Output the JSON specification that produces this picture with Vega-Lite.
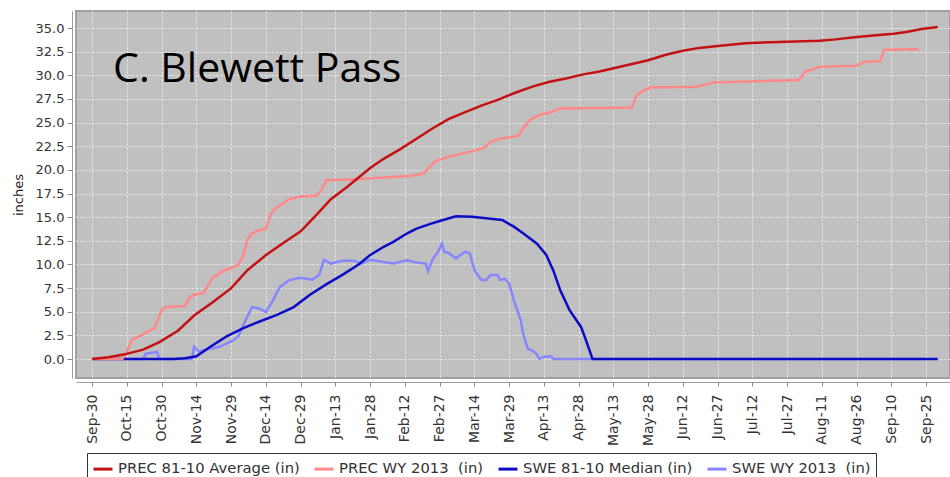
{
  "$schema": "https://vega.github.io/schema/vega-lite/v6.json",
  "width": 874,
  "height": 367,
  "autosize": {"type": "none"},
  "padding": {"left": 76, "top": 11, "right": 0, "bottom": 99},
  "background": "white",
  "config": {
    "view": {"fill": "#c0c0c0", "stroke": "#a0a0a0", "strokeWidth": 2},
    "font": "DejaVu Sans",
    "legend": {
      "orient": "none", "legendX": 11, "legendY": 442, "direction": "horizontal",
      "strokeColor": "#333", "fillColor": "white", "padding": 5,
      "symbolType": "stroke", "symbolSize": 361, "symbolStrokeWidth": 3,
      "labelFontSize": 14.8, "labelFont": "DejaVu Sans", "labelColor": "#333",
      "columnPadding": 8, "labelOffset": 4, "labelLimit": 0, "title": null
    }
  },
  "datasets": {
    "pa": [
      {"t":"2012-09-30","v":0},{"t":"2012-10-07","v":0.2},{"t":"2012-10-14","v":0.5},{"t":"2012-10-22","v":1.0},{"t":"2012-10-29","v":1.8},{"t":"2012-11-06","v":3.0},{"t":"2012-11-13","v":4.6},{"t":"2012-11-21","v":6.0},{"t":"2012-11-29","v":7.5},{"t":"2012-12-06","v":9.4},{"t":"2012-12-14","v":11.0},{"t":"2012-12-21","v":12.2},{"t":"2012-12-29","v":13.5},{"t":"2013-01-05","v":15.3},{"t":"2013-01-11","v":16.9},{"t":"2013-01-18","v":18.2},{"t":"2013-01-23","v":19.2},{"t":"2013-01-28","v":20.2},{"t":"2013-02-03","v":21.2},{"t":"2013-02-10","v":22.2},{"t":"2013-02-17","v":23.3},{"t":"2013-02-24","v":24.4},{"t":"2013-03-03","v":25.4},{"t":"2013-03-10","v":26.1},{"t":"2013-03-17","v":26.8},{"t":"2013-03-24","v":27.4},{"t":"2013-03-31","v":28.1},{"t":"2013-04-08","v":28.8},{"t":"2013-04-15","v":29.3},{"t":"2013-04-23","v":29.7},{"t":"2013-04-30","v":30.1},{"t":"2013-05-07","v":30.4},{"t":"2013-05-14","v":30.8},{"t":"2013-05-21","v":31.2},{"t":"2013-05-28","v":31.6},{"t":"2013-06-05","v":32.2},{"t":"2013-06-12","v":32.6},{"t":"2013-06-19","v":32.9},{"t":"2013-06-27","v":33.1},{"t":"2013-07-09","v":33.4},{"t":"2013-07-27","v":33.55},{"t":"2013-08-10","v":33.65},{"t":"2013-08-17","v":33.8},{"t":"2013-08-24","v":34.0},{"t":"2013-09-02","v":34.2},{"t":"2013-09-11","v":34.4},{"t":"2013-09-17","v":34.6},{"t":"2013-09-23","v":34.9},{"t":"2013-09-30","v":35.1}
    ],
    "pw": [
      {"t":"2012-09-30","v":0},{"t":"2012-10-13","v":0},{"t":"2012-10-15","v":0.8},{"t":"2012-10-17","v":2.0},{"t":"2012-10-21","v":2.5},{"t":"2012-10-24","v":2.9},{"t":"2012-10-27","v":3.3},{"t":"2012-10-29","v":4.6},{"t":"2012-10-30","v":5.2},{"t":"2012-11-01","v":5.5},{"t":"2012-11-09","v":5.6},{"t":"2012-11-11","v":6.5},{"t":"2012-11-13","v":6.8},{"t":"2012-11-17","v":7.0},{"t":"2012-11-19","v":7.8},{"t":"2012-11-21","v":8.6},{"t":"2012-11-23","v":8.9},{"t":"2012-11-26","v":9.4},{"t":"2012-11-29","v":9.6},{"t":"2012-12-02","v":10.0},{"t":"2012-12-04","v":10.8},{"t":"2012-12-06","v":12.6},{"t":"2012-12-08","v":13.3},{"t":"2012-12-11","v":13.6},{"t":"2012-12-14","v":13.8},{"t":"2012-12-16","v":15.3},{"t":"2012-12-18","v":15.9},{"t":"2012-12-21","v":16.4},{"t":"2012-12-24","v":16.9},{"t":"2012-12-29","v":17.2},{"t":"2013-01-05","v":17.3},{"t":"2013-01-07","v":17.9},{"t":"2013-01-09","v":18.9},{"t":"2013-01-22","v":19.0},{"t":"2013-02-03","v":19.2},{"t":"2013-02-14","v":19.35},{"t":"2013-02-20","v":19.6},{"t":"2013-02-23","v":20.4},{"t":"2013-02-25","v":20.9},{"t":"2013-03-03","v":21.4},{"t":"2013-03-09","v":21.75},{"t":"2013-03-18","v":22.3},{"t":"2013-03-21","v":23.0},{"t":"2013-03-25","v":23.3},{"t":"2013-04-02","v":23.6},{"t":"2013-04-04","v":24.4},{"t":"2013-04-07","v":25.3},{"t":"2013-04-11","v":25.8},{"t":"2013-04-16","v":26.1},{"t":"2013-04-20","v":26.5},{"t":"2013-05-21","v":26.6},{"t":"2013-05-23","v":27.9},{"t":"2013-05-26","v":28.4},{"t":"2013-05-29","v":28.7},{"t":"2013-06-18","v":28.8},{"t":"2013-06-25","v":29.25},{"t":"2013-08-01","v":29.5},{"t":"2013-08-04","v":30.4},{"t":"2013-08-10","v":30.9},{"t":"2013-08-26","v":31.0},{"t":"2013-08-29","v":31.4},{"t":"2013-09-05","v":31.5},{"t":"2013-09-07","v":32.7},{"t":"2013-09-22","v":32.75}
    ],
    "sm": [
      {"t":"2012-09-30","v":0},{"t":"2012-11-04","v":0},{"t":"2012-11-09","v":0.1},{"t":"2012-11-14","v":0.3},{"t":"2012-11-20","v":1.3},{"t":"2012-11-27","v":2.4},{"t":"2012-12-04","v":3.25},{"t":"2012-12-11","v":3.95},{"t":"2012-12-19","v":4.7},{"t":"2012-12-26","v":5.5},{"t":"2013-01-02","v":6.8},{"t":"2013-01-09","v":7.9},{"t":"2013-01-16","v":8.9},{"t":"2013-01-23","v":10.0},{"t":"2013-01-28","v":11.0},{"t":"2013-02-03","v":11.9},{"t":"2013-02-07","v":12.4},{"t":"2013-02-13","v":13.3},{"t":"2013-02-17","v":13.8},{"t":"2013-02-23","v":14.3},{"t":"2013-02-27","v":14.6},{"t":"2013-03-06","v":15.1},{"t":"2013-03-13","v":15.05},{"t":"2013-03-19","v":14.9},{"t":"2013-03-26","v":14.7},{"t":"2013-03-31","v":14.0},{"t":"2013-04-04","v":13.3},{"t":"2013-04-10","v":12.2},{"t":"2013-04-14","v":11.0},{"t":"2013-04-17","v":9.4},{"t":"2013-04-20","v":7.3},{"t":"2013-04-24","v":5.2},{"t":"2013-04-29","v":3.4},{"t":"2013-05-01","v":2.1},{"t":"2013-05-04","v":0},{"t":"2013-09-30","v":0}
    ],
    "sw": [
      {"t":"2012-09-30","v":0},{"t":"2012-10-22","v":0},{"t":"2012-10-23","v":0.55},{"t":"2012-10-25","v":0.65},{"t":"2012-10-28","v":0.75},{"t":"2012-10-29","v":0},{"t":"2012-11-12","v":0},{"t":"2012-11-13","v":1.3},{"t":"2012-11-15","v":0.8},{"t":"2012-11-17","v":0.95},{"t":"2012-11-24","v":1.3},{"t":"2012-11-30","v":2.0},{"t":"2012-12-02","v":2.4},{"t":"2012-12-05","v":4.0},{"t":"2012-12-08","v":5.5},{"t":"2012-12-11","v":5.35},{"t":"2012-12-14","v":5.0},{"t":"2012-12-17","v":6.2},{"t":"2012-12-20","v":7.6},{"t":"2012-12-24","v":8.35},{"t":"2012-12-29","v":8.6},{"t":"2013-01-03","v":8.4},{"t":"2013-01-06","v":8.9},{"t":"2013-01-08","v":10.5},{"t":"2013-01-11","v":10.1},{"t":"2013-01-16","v":10.4},{"t":"2013-01-21","v":10.4},{"t":"2013-01-24","v":10.1},{"t":"2013-01-28","v":10.5},{"t":"2013-02-02","v":10.3},{"t":"2013-02-07","v":10.1},{"t":"2013-02-13","v":10.45},{"t":"2013-02-17","v":10.2},{"t":"2013-02-21","v":10.1},{"t":"2013-02-22","v":9.3},{"t":"2013-02-24","v":10.6},{"t":"2013-02-26","v":11.2},{"t":"2013-02-28","v":12.2},{"t":"2013-03-01","v":11.35},{"t":"2013-03-03","v":11.2},{"t":"2013-03-06","v":10.65},{"t":"2013-03-08","v":11.0},{"t":"2013-03-10","v":11.35},{"t":"2013-03-12","v":11.2},{"t":"2013-03-14","v":9.4},{"t":"2013-03-17","v":8.35},{"t":"2013-03-19","v":8.35},{"t":"2013-03-21","v":8.9},{"t":"2013-03-24","v":8.9},{"t":"2013-03-25","v":8.35},{"t":"2013-03-27","v":8.5},{"t":"2013-03-29","v":8.0},{"t":"2013-03-31","v":6.2},{"t":"2013-04-03","v":4.1},{"t":"2013-04-04","v":2.7},{"t":"2013-04-06","v":1.1},{"t":"2013-04-08","v":0.9},{"t":"2013-04-10","v":0.5},{"t":"2013-04-11","v":0},{"t":"2013-04-13","v":0.25},{"t":"2013-04-16","v":0.3},{"t":"2013-04-17","v":0},{"t":"2013-09-23","v":0}
    ],
    "label": [{"t":"2012-10-09","v":29.3,"name":"C. Blewett Pass"}]
  },
  "encoding": {
    "x": {
      "field": "t", "type": "temporal",
      "scale": {"type": "utc", "domain": [{"year":2012,"month":9,"date":23,"utc":true},{"year":2013,"month":10,"date":5,"hours":7,"utc":true}]},
      "axis": {
        "title": null, "offset": 4, "labelAngle": -90, "labelFontSize": 14, "labelColor": "#333",
        "labelPadding": 8, "tickSize": 4, "tickColor": "#888", "domainColor": "#999",
        "grid": true, "gridColor": "#ececec", "gridDash": [2, 2], "gridOpacity": 1,
        "labelExpr": "utcFormat(datum.value, '%b-%d')",
        "values": [
          {"year":2012,"month":9,"date":30,"utc":true},{"year":2012,"month":10,"date":15,"utc":true},{"year":2012,"month":10,"date":30,"utc":true},{"year":2012,"month":11,"date":14,"utc":true},{"year":2012,"month":11,"date":29,"utc":true},{"year":2012,"month":12,"date":14,"utc":true},{"year":2012,"month":12,"date":29,"utc":true},{"year":2013,"month":1,"date":13,"utc":true},{"year":2013,"month":1,"date":28,"utc":true},{"year":2013,"month":2,"date":12,"utc":true},{"year":2013,"month":2,"date":27,"utc":true},{"year":2013,"month":3,"date":14,"utc":true},{"year":2013,"month":3,"date":29,"utc":true},{"year":2013,"month":4,"date":13,"utc":true},{"year":2013,"month":4,"date":28,"utc":true},{"year":2013,"month":5,"date":13,"utc":true},{"year":2013,"month":5,"date":28,"utc":true},{"year":2013,"month":6,"date":12,"utc":true},{"year":2013,"month":6,"date":27,"utc":true},{"year":2013,"month":7,"date":12,"utc":true},{"year":2013,"month":7,"date":27,"utc":true},{"year":2013,"month":8,"date":11,"utc":true},{"year":2013,"month":8,"date":26,"utc":true},{"year":2013,"month":9,"date":10,"utc":true},{"year":2013,"month":9,"date":25,"utc":true}
        ]
      }
    },
    "y": {
      "field": "v", "type": "quantitative",
      "scale": {"domain": [-2.0, 36.8], "nice": false, "zero": false},
      "axis": {
        "title": "inches", "titleFontSize": 13, "titleFontWeight": "normal", "titleColor": "#222", "titlePadding": 10,
        "offset": 4, "labelFontSize": 13, "labelColor": "#333", "labelPadding": 3, "tickSize": 5,
        "tickColor": "#888", "domainColor": "#999", "format": ".1f",
        "grid": true, "gridColor": "#ececec", "gridDash": [2, 2], "gridOpacity": 1,
        "values": [0, 2.5, 5, 7.5, 10, 12.5, 15, 17.5, 20, 22.5, 25, 27.5, 30, 32.5, 35]
      }
    }
  },
  "layer": [
    {
      "data": {"name": "sw"},
      "mark": {"type": "line", "strokeWidth": 2.5},
      "encoding": {"color": {"datum": "SWE WY 2013\u00a0 (in)", "type": "nominal",
        "scale": {"domain": ["PREC 81-10 Average (in)", "PREC WY 2013\u00a0 (in)", "SWE 81-10 Median (in)", "SWE WY 2013\u00a0 (in)"],
                  "range": ["#c41212", "#ff8888", "#0c0cc4", "#8686ff"]}}}
    },
    {
      "data": {"name": "sm"},
      "mark": {"type": "line", "strokeWidth": 2.5},
      "encoding": {"color": {"datum": "SWE 81-10 Median (in)", "type": "nominal"}}
    },
    {
      "data": {"name": "pw"},
      "mark": {"type": "line", "strokeWidth": 2.5},
      "encoding": {"color": {"datum": "PREC WY 2013\u00a0 (in)", "type": "nominal"}}
    },
    {
      "data": {"name": "pa"},
      "mark": {"type": "line", "strokeWidth": 2.5},
      "encoding": {"color": {"datum": "PREC 81-10 Average (in)", "type": "nominal"}}
    },
    {
      "data": {"name": "label"},
      "mark": {"type": "text", "font": "Open Sans", "fontSize": 41, "color": "black", "align": "left", "baseline": "alphabetic"},
      "encoding": {"text": {"field": "name", "type": "nominal"}}
    }
  ]
}
